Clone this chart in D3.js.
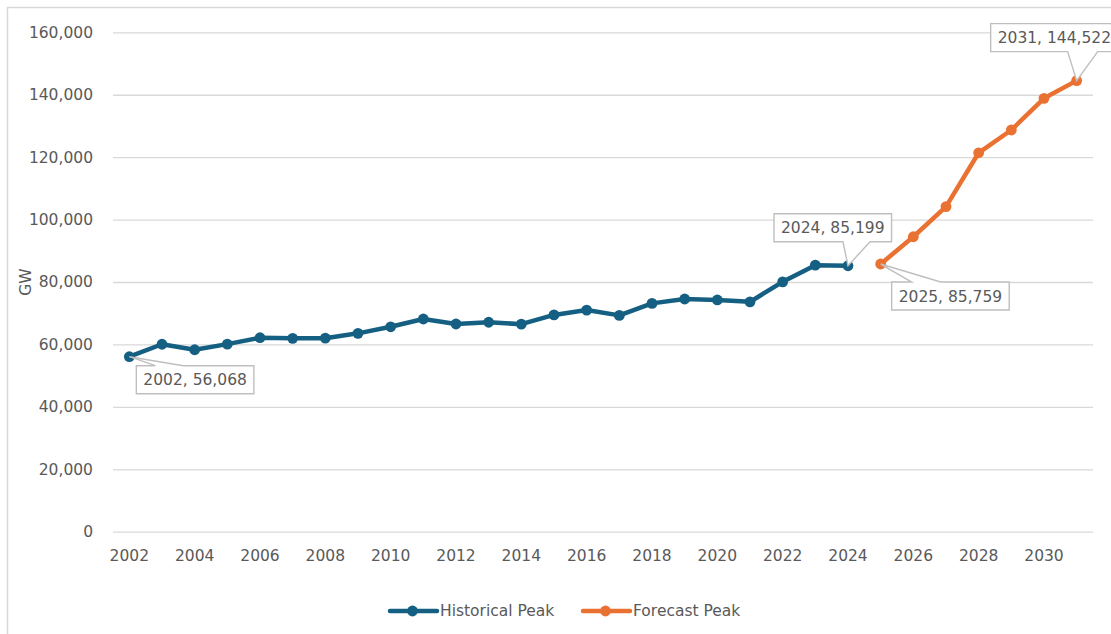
<!DOCTYPE html>
<html>
<head>
<meta charset="utf-8">
<script src="https://cdn.jsdelivr.net/npm/d3@7"></script>
<style>
  html, body { margin: 0; padding: 0; background: #fff; }
  svg { display: block; font-family: "DejaVu Sans", sans-serif; }
</style>
</head>
<body>
<svg id="chart" width="1111" height="634"></svg>
<script>
// Peak demand, GW — historical record and forecast
const historicalYears = [2002, 2003, 2004, 2005, 2006, 2007, 2008, 2009, 2010, 2011, 2012,
  2013, 2014, 2015, 2016, 2017, 2018, 2019, 2020, 2021, 2022, 2023, 2024];
const historicalPeak = [56068, 60050, 58300, 60100, 62150, 61950, 62000, 63550, 65650, 68150, 66550,
  67100, 66500, 69450, 71000, 69300, 73150, 74550, 74250, 73650, 80050, 85400, 85199];
const forecastYears = [2025, 2026, 2027, 2028, 2029, 2030, 2031];
const forecastPeak = [85759, 94500, 104150, 121400, 128700, 138850, 144522];
const yTicks = [0, 20000, 40000, 60000, 80000, 100000, 120000, 140000, 160000];
const xTickYears = [2002, 2004, 2006, 2008, 2010, 2012, 2014, 2016, 2018, 2020, 2022, 2024, 2026, 2028, 2030];
const labelledYears = [2002, 2024, 2025, 2031];
const seriesNames = ["Historical Peak", "Forecast Peak"];
const yAxisTitle = "GW";

const colors = { hist: "#156082", fore: "#E97132", text: "#595959", grid: "#d9d9d9", callout: "#bfbfbf" };
const fontSize = 15.5;

const svg = d3.select("#chart");

// chart frame
svg.append("rect")
  .attr("x", 7.5).attr("y", 7.5).attr("width", 1200).attr("height", 700)
  .attr("fill", "#fff").attr("stroke", "#d9d9d9").attr("stroke-width", 1.5);

const allYears = historicalYears.concat(forecastYears);
const x = d3.scaleBand().domain(allYears).range([113, 1093]).padding(0);
const y = d3.scaleLinear().domain([0, 160000]).range([531.7, 32.3]);
const cx = yr => x(yr) + x.bandwidth() / 2;
const fmt = d3.format(",");

// gridlines and value axis
const yAxis = d3.axisLeft(y).tickValues(yTicks).tickFormat(fmt).tickSize(-(1093 - 113)).tickPadding(20);
const gy = svg.append("g").attr("transform", "translate(113,0)").call(yAxis);
gy.select(".domain").remove();
gy.selectAll(".tick line").attr("stroke", colors.grid).attr("stroke-width", 1.3);
gy.selectAll(".tick text").attr("fill", colors.text).attr("font-size", fontSize)
  .attr("font-family", "DejaVu Sans, sans-serif");

// category axis
const xAxis = d3.axisBottom(x).tickValues(xTickYears).tickFormat(d3.format("d")).tickSize(0).tickPadding(18);
const gx = svg.append("g").attr("transform", "translate(0,531.7)").call(xAxis);
gx.select(".domain").remove();
gx.selectAll(".tick text").attr("fill", colors.text).attr("font-size", fontSize)
  .attr("font-family", "DejaVu Sans, sans-serif");

// axis title
svg.append("text")
  .attr("transform", "translate(31,282) rotate(-90)")
  .attr("text-anchor", "middle")
  .attr("fill", colors.text).attr("font-size", fontSize)
  .text(yAxisTitle);

// series
const hist = historicalYears.map((yr, i) => ({ year: yr, value: historicalPeak[i] }));
const fore = forecastYears.map((yr, i) => ({ year: yr, value: forecastPeak[i] }));
const line = d3.line().x(d => cx(d.year)).y(d => y(d.value));

function drawSeries(data, color) {
  svg.append("path").datum(data)
    .attr("d", line).attr("fill", "none")
    .attr("stroke", color).attr("stroke-width", 4.5)
    .attr("stroke-linejoin", "round").attr("stroke-linecap", "round");
  svg.append("g").selectAll("circle").data(data).join("circle")
    .attr("cx", d => cx(d.year)).attr("cy", d => y(d.value)).attr("r", 5.4)
    .attr("fill", color);
}
drawSeries(hist, colors.hist);
drawSeries(fore, colors.fore);

// callout data labels: box offset from the point and the wedge base span
const calloutLayout = {
  2002: { dx: 7, dy: 9, side: "top", w1: 26, w2: 54 },
  2024: { dx: -74, dy: -52, side: "bottom", w1: -5, w2: 22 },
  2025: { dx: 11, dy: 18, side: "top", w1: 31, w2: 60 },
  2031: { dx: -86, dy: -57, side: "bottom", w1: -9, w2: 21 }
};
const allPoints = hist.concat(fore);
labelledYears.forEach(yr => {
  const d = allPoints.find(p => p.year === yr);
  const L = calloutLayout[yr];
  const px = cx(d.year), py = y(d.value);
  const g = svg.append("g");
  const path = g.append("path");
  const t = g.append("text")
    .attr("fill", colors.text).attr("font-size", fontSize)
    .attr("dominant-baseline", "central")
    .text(`${d.year}, ${fmt(d.value)}`);
  const tw = t.node().getComputedTextLength();
  const left = px + L.dx, top = py + L.dy, h = 28, w = tw + 14;
  const right = left + w, bottom = top + h;
  t.attr("x", left + 7).attr("y", top + h / 2 + 0.5);
  let p;
  if (L.side === "top") {
    p = `M${left},${top}L${px + L.w1},${top}L${px},${py}L${px + L.w2},${top}L${right},${top}L${right},${bottom}L${left},${bottom}Z`;
  } else {
    p = `M${left},${top}L${right},${top}L${right},${bottom}L${px + L.w2},${bottom}L${px},${py}L${px + L.w1},${bottom}L${left},${bottom}Z`;
  }
  path.attr("d", p).attr("fill", "#fff").attr("stroke", colors.callout).attr("stroke-width", 1.4)
    .attr("stroke-linejoin", "miter");
});

// legend
const legendItems = [
  { name: seriesNames[0], color: colors.hist, x0: 390 },
  { name: seriesNames[1], color: colors.fore, x0: 583 }
];
const lg = svg.append("g");
legendItems.forEach(it => {
  const ly = 611;
  lg.append("line").attr("x1", it.x0).attr("x2", it.x0 + 47).attr("y1", ly).attr("y2", ly)
    .attr("stroke", it.color).attr("stroke-width", 4.5).attr("stroke-linecap", "round");
  lg.append("circle").attr("cx", it.x0 + 22.5).attr("cy", ly).attr("r", 5.4).attr("fill", it.color);
  lg.append("text").attr("x", it.x0 + 50).attr("y", ly).attr("dominant-baseline", "central")
    .attr("fill", colors.text).attr("font-size", fontSize).text(it.name);
});
</script>
</body>
</html>
